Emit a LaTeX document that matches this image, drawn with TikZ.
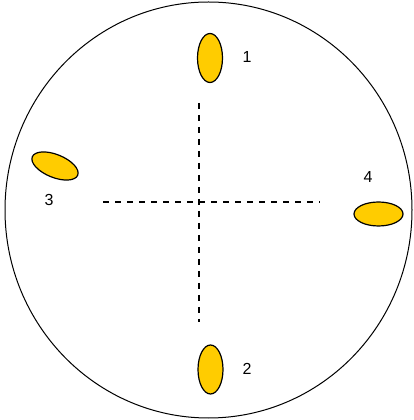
\documentclass[tikz,border=0pt]{standalone}
\usepackage{fontspec}
\setmainfont{Liberation Sans}
\usetikzlibrary{shapes.geometric}
\begin{document}
\begin{tikzpicture}[x=1pt,y=1pt,
  pad/.style={draw=black,line width=1.2pt,fill={rgb,255:red,255;green,204;blue,0}},
  lbl/.style={font=\fontsize{16}{18}\selectfont,inner sep=0pt},
  axis/.style={line width=1.4pt,dash pattern=on 6pt off 6pt}]
\useasboundingbox (0,0) rectangle (414,420);
\node[draw,ellipse,line width=1pt,minimum width=407,minimum height=416,inner sep=0pt] (ring) at (208.5,210) {};
\draw[pad] (210,362) ellipse [x radius=12.5, y radius=24.5];
\draw[pad] (210.5,50.5) ellipse [x radius=12.5, y radius=24.5];
\draw[pad,rotate around={-22:(55,254)}] (55,254) ellipse [x radius=24.5, y radius=11.5];
\draw[pad] (378.5,206) ellipse [x radius=24.5, y radius=12];
\node[lbl] (l1) at (247,363) {1};
\node[lbl] (l2) at (247,51) {2};
\node[lbl] (l3) at (49,220) {3};
\node[lbl] (l4) at (368,243) {4};
\coordinate (vt) at (199,317);
\coordinate (vb) at (199,98);
\coordinate (hl) at (103,218);
\coordinate (hr) at (320,218);
\draw[axis] (vt) -- (vb);
\draw[axis] (hl) -- (hr);
\end{tikzpicture}
\end{document}
